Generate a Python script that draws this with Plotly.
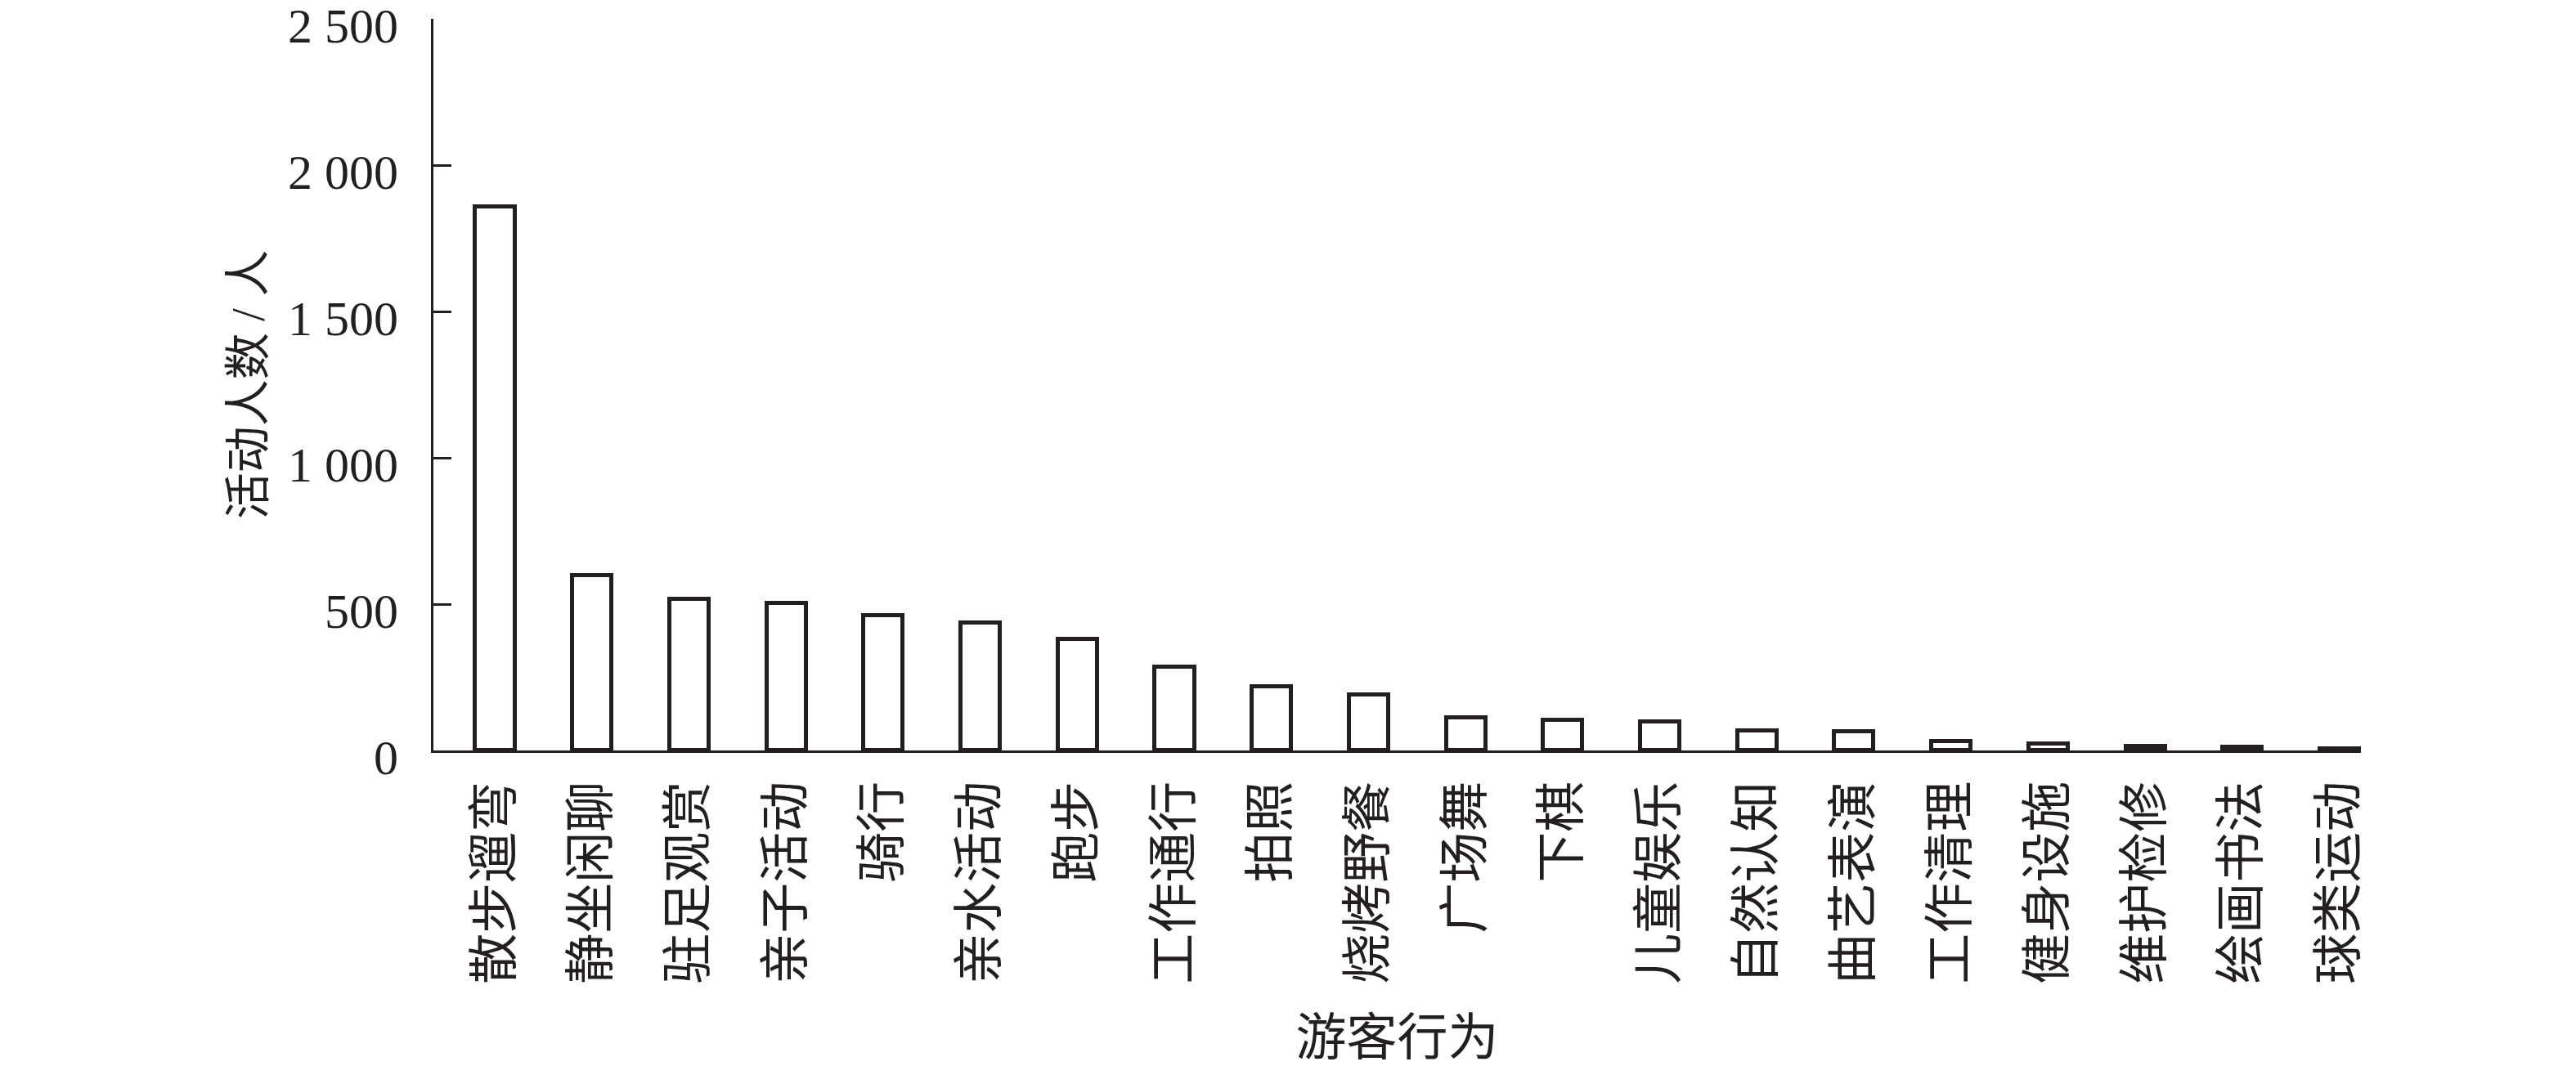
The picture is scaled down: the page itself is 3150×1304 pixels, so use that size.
import plotly.graph_objects as go

categories = ["散步遛弯", "静坐闲聊", "驻足观赏", "亲子活动", "骑行", "亲水活动", "跑步",
              "工作通行", "拍照", "烧烤野餐", "广场舞", "下棋", "儿童娱乐", "自然认知",
              "曲艺表演", "工作清理", "健身设施", "维护检修", "绘画书法", "球类运动"]
values = [1857, 599, 516, 503, 461, 435, 381, 286, 218, 190, 112, 104, 97, 66, 63, 31, 21, 15, 11, 6]

y_tickvals = [0, 500, 1000, 1500, 2000, 2500]
y_ticktext = ["0", "500", "1 000", "1 500", "2 000", "2 500"]

ink = "#231f20"
font_family = "Liberation Serif, Times New Roman, Noto Sans CJK SC"

fig = go.Figure()
fig.add_trace(go.Bar(
    x=categories, y=values, width=0.405,
    marker=dict(color="white", line=dict(color=ink, width=5)),
))

fig.update_layout(
    width=3150, height=1304,
    paper_bgcolor="white", plot_bgcolor="white",
    margin=dict(l=530, r=263, t=23, b=385.5, autoexpand=False),
    font=dict(family=font_family, size=58, color=ink),
    showlegend=False,
    bargap=0,
)
fig.update_xaxes(
    type="category", range=[-0.636, 19.219],
    showline=True, linewidth=3, linecolor=ink,
    ticks="", tickangle=-90, showgrid=False, zeroline=False,
    tickfont=dict(size=62, family=font_family, color=ink),
    ticklabelstandoff=10,
    title=dict(text="游客行为", font=dict(size=62, family=font_family, color=ink), standoff=46),
    automargin=False,
)
fig.update_yaxes(
    range=[0, 2500], tickvals=y_tickvals, ticktext=y_ticktext,
    showline=True, linewidth=3, linecolor=ink,
    ticks="inside", ticklen=22, tickwidth=3, tickcolor=ink,
    showgrid=False, zeroline=False,
    tickfont=dict(size=60, family=font_family, color=ink),
    ticklabelstandoff=28, ticklabelshift=8, ticklabeloverflow="allow",
    title=dict(text="活动人数 / 人", font=dict(size=57, family=font_family, color=ink), standoff=11),
    automargin=False,
)

# remove the page's default body margin so the figure fills the window exactly
fig.write_html("out.html",
               config={"displayModeBar": False},
               post_script="document.body.style.margin='0';document.body.style.overflow='hidden';")
